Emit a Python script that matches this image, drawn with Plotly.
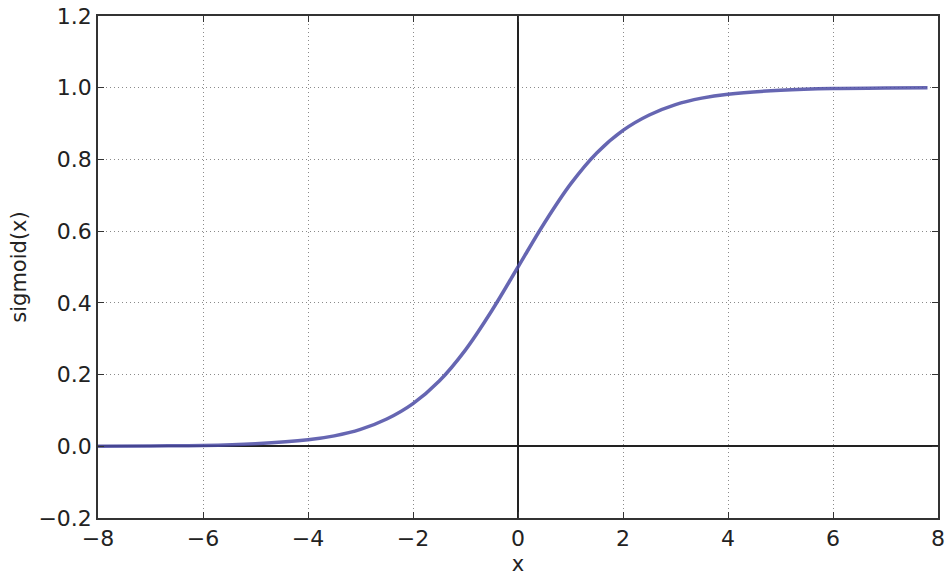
import plotly.graph_objects as go

# values
x_vals = [-8, -7, -6, -5, -4, -3.5, -3, -2.5, -2, -1.5, -1, -0.5, 0,
          0.5, 1, 1.5, 2, 2.5, 3, 3.5, 4, 5, 6, 7, 7.8]
y_vals = [0.000, 0.001, 0.002, 0.007, 0.018, 0.029, 0.047, 0.076, 0.119,
          0.182, 0.269, 0.378, 0.500, 0.622, 0.731, 0.818, 0.881, 0.924,
          0.953, 0.971, 0.982, 0.993, 0.998, 0.999, 1.000]

x_ticks = [-8, -6, -4, -2, 0, 2, 4, 6, 8]
y_ticks = [-0.2, 0.0, 0.2, 0.4, 0.6, 0.8, 1.0, 1.2]

fig = go.Figure()
fig.add_trace(go.Scatter(x=x_vals, y=y_vals, mode="lines",
                         line=dict(color="rgba(75,75,165,0.85)", width=3.5, shape="spline"),
                         showlegend=False, hoverinfo="skip"))

axis_common = dict(
    showline=True, linecolor="#333333", linewidth=1.5, mirror="ticks",
    ticks="inside", ticklen=6, tickcolor="#333333",
    showgrid=True, gridcolor="#8a8a8a", griddash="1px,3px", gridwidth=1,
    zeroline=True, zerolinecolor="#222222", zerolinewidth=1.5,
    tickfont=dict(family="DejaVu Sans", size=22, color="#222222"),
    ticklabeloverflow="allow",
    automargin=False,
)

fig.update_xaxes(range=[-8, 8], tickvals=x_ticks,
                 ticktext=[str(t).replace("-", "\u2212") for t in x_ticks],
                 title=dict(text="x", font=dict(family="DejaVu Sans", size=21, color="#222222"), standoff=6),
                 **axis_common)
fig.update_yaxes(range=[-0.2, 1.2], tickvals=y_ticks,
                 ticktext=[f"{t:.1f}".replace("-", "\u2212") for t in y_ticks],
                 title=dict(text="sigmoid(x)", font=dict(family="DejaVu Sans", size=21, color="#222222"), standoff=6),
                 **axis_common)

fig.update_layout(width=950, height=576, plot_bgcolor="white", paper_bgcolor="white",
                  margin=dict(l=98, r=12, t=16, b=58))

# drop the default page margin so the figure sits at the window's corner
fig.write_html("out.html", config={"displayModeBar": False},
               post_script="document.body.style.margin='0';")
